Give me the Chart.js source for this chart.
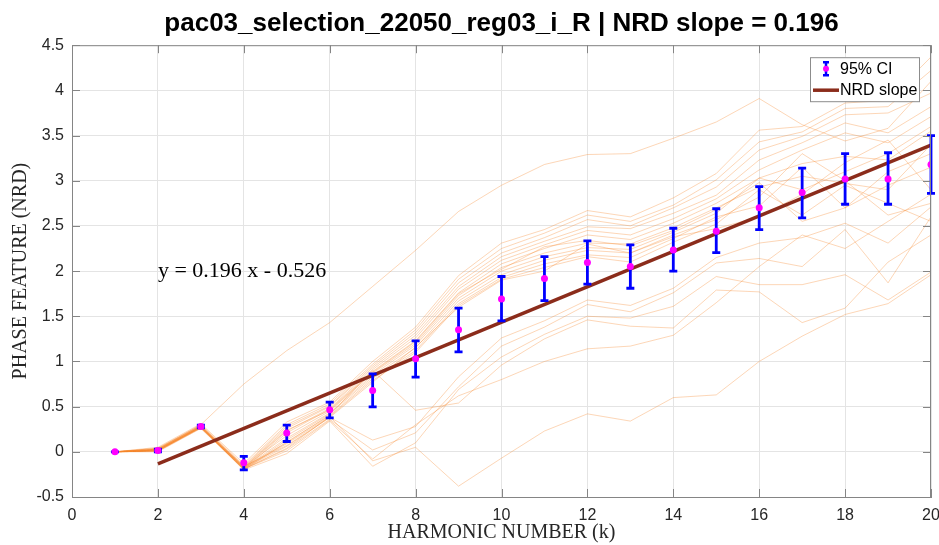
<!doctype html>
<html lang="en">
<head>
<meta charset="utf-8">
<title>NRD slope</title>
<style>
  * { margin: 0; padding: 0; }
  body { background: #ffffff; }
  .chartBox { width: 939px; height: 545px; }
</style>
</head>
<body>
<div class="chartBox"><canvas id="myChart" width="939" height="545"></canvas></div>
<script src="https://cdn.jsdelivr.net/npm/chart.js"></script>
<script>
// harmonic index on the x axis
const harmonics = [1, 2, 3, 4, 5, 6, 7, 8, 9, 10, 11, 12, 13, 14, 15, 16, 17, 18, 19, 20];

// mean and 95% confidence interval per harmonic
const ciMean = [0, 0.015, 0.28, -0.12, 0.207, 0.465, 0.678, 1.03, 1.35, 1.69, 1.917, 2.094, 2.05, 2.234, 2.44, 2.70, 2.87, 3.02, 3.02, 3.18];
const ciLow  = [0, 0.0, 0.265, -0.20, 0.114, 0.376, 0.498, 0.826, 1.106, 1.45, 1.674, 1.855, 1.81, 2.0, 2.205, 2.46, 2.59, 2.74, 2.74, 2.86];
const ciHigh = [0, 0.03, 0.295, -0.05, 0.295, 0.55, 0.863, 1.228, 1.59, 1.94, 2.16, 2.334, 2.29, 2.474, 2.69, 2.935, 3.14, 3.30, 3.31, 3.50];

// linear fit
const slope = 0.196;
const intercept = -0.526;
const fitRange = [2, 20];

const xTicks = [0, 2, 4, 6, 8, 10, 12, 14, 16, 18, 20];
const yTicks = [-0.5, 0, 0.5, 1, 1.5, 2, 2.5, 3, 3.5, 4, 4.5];

// individual NRD curves
const traces = [
  [0, 0.03, 0.30,  0.75, 1.12, 1.43, 1.83, 2.23, 2.66, 2.95, 3.18, 3.29, 3.30, 3.47, 3.65, 3.91, 3.62, 3.44, 3.58, 4.10],
  [0, 0.05, 0.31, -0.13, 0.33, 0.55, 1.00, 1.38, 1.95, 2.31, 2.46, 2.67, 2.60, 2.81, 3.08, 3.56, 3.60, 3.86, 3.89, 4.37],
  [0, 0.04, 0.30, -0.15, 0.30, 0.53, 0.97, 1.35, 1.91, 2.25, 2.42, 2.62, 2.55, 2.73, 3.01, 3.43, 3.54, 3.80, 3.82, 4.22],
  [0, 0.03, 0.29, -0.16, 0.28, 0.51, 0.95, 1.32, 1.87, 2.20, 2.37, 2.57, 2.50, 2.70, 2.93, 3.34, 3.49, 3.73, 3.75, 3.97],
  [0, 0.02, 0.28, -0.17, 0.26, 0.50, 0.93, 1.29, 1.83, 2.16, 2.33, 2.49, 2.47, 2.64, 2.84, 3.23, 3.42, 3.64, 3.53, 3.82],
  [0, 0.02, 0.28, -0.18, 0.23, 0.48, 0.91, 1.26, 1.80, 2.12, 2.29, 2.45, 2.40, 2.58, 2.80, 3.12, 3.34, 3.53, 3.42, 3.71],
  [0, 0.01, 0.27, -0.19, 0.21, 0.47, 0.89, 1.23, 1.76, 2.08, 2.25, 2.40, 2.35, 2.53, 2.75, 3.03, 3.19, 3.27, 3.23, 3.55],
  [0, 0.03, 0.29, -0.17, 0.18, 0.45, 0.87, 1.20, 1.73, 2.04, 2.20, 2.31, 2.30, 2.48, 2.70, 2.93, 3.05, 2.97, 2.90, 3.40],
  [0, 0.02, 0.27, -0.18, 0.15, 0.43, 0.85, 1.18, 1.70, 2.00, 2.16, 2.26, 2.24, 2.43, 2.64, 3.03, 2.90, 3.10, 3.30, 3.60],
  [0, 0.01, 0.26, -0.19, 0.13, 0.42, 0.83, 1.15, 1.67, 1.96, 2.12, 2.23, 2.20, 2.40, 2.57, 2.82, 3.30, 3.00, 2.62, 2.75],
  [0, 0.03, 0.28, -0.20, 0.11, 0.40, 0.81, 1.12, 1.64, 1.93, 2.08, 2.18, 2.15, 2.36, 2.60, 2.72, 3.15, 2.70, 3.10, 3.30],
  [0, 0.02, 0.27, -0.18, 0.09, 0.39, 0.79, 1.10, 1.62, 1.91, 2.04, 2.16, 2.10, 2.32, 2.52, 2.90, 2.62, 2.95, 2.75, 2.55],
  [0, 0.04, 0.29, -0.16, 0.07, 0.38, 0.77, 1.16, 1.60, 1.90, 2.00, 2.30, 2.20, 2.38, 2.47, 2.60, 2.85, 3.20, 3.45, 2.90],
  [0, 0.02, 0.28, -0.17, 0.24, 0.46, 0.88, 1.22, 1.75, 2.02, 2.27, 2.34, 2.28, 2.45, 2.68, 2.98, 2.55, 2.70, 2.95, 3.15],
  [0, 0.02, 0.28, -0.18, 0.06, 0.38, 0.13, 0.28, 0.83, 1.26, 1.45, 1.68, 1.62, 1.81, 2.15, 2.31, 2.37, 2.53, 2.31, 2.71],
  [0, 0.01, 0.27, -0.19, 0.03, 0.36, 0.02, 0.21, 0.72, 1.17, 1.38, 1.63, 1.55, 1.76, 2.09, 2.14, 2.05, 2.46, 1.87, 2.60],
  [0, 0.00, 0.26, -0.20, -0.02, 0.34, -0.16, 0.10, 0.69, 1.05, 1.30, 1.50, 1.48, 1.61, 1.94, 1.85, 1.85, 1.96, 1.68, 1.99],
  [0, 0.02, 0.28, -0.17, 0.10, 0.41, 0.90, 0.46, 0.54, 0.96, 1.25, 1.46, 1.39, 1.37, 1.79, 1.77, 1.43, 1.59, 2.10, 2.40],
  [0, 0.01, 0.27, -0.19, 0.01, 0.35, -0.08, 0.30, 0.62, 0.80, 1.00, 1.14, 1.17, 1.29, 1.65, 2.05, 2.40, 2.25, 2.55, 2.85],
  [0, 0.01, 0.27, -0.19, 0.04, 0.39, -0.10, 0.05, -0.38, -0.07, 0.23, 0.42, 0.34, 0.60, 0.63, 1.00, 1.28, 1.52, 1.64, 1.96]
];

const sans = "'Liberation Sans', Arial, sans-serif";
const serif = "'Liberation Serif', 'DejaVu Serif', serif";
const ciBlue = '#0000ff';
const meanPink = '#ff00ff';
const fitColor = '#8b2c1b';
const traceColor = 'rgba(247, 134, 43, 0.34)';
const frameColor = '#858585';

const fitLabel = 'y = ' + slope.toFixed(3) + ' x ' + (intercept < 0 ? '- ' : '+ ') + Math.abs(intercept).toFixed(3);

// datasets: earlier entries are painted on top
const datasets = [
  {
    label: '95% CI',
    data: harmonics.map((k, i) => ({ x: k, y: ciMean[i] })),
    showLine: false,
    pointRadius: 3.5,
    pointBackgroundColor: meanPink,
    pointBorderWidth: 0
  },
  {
    label: 'NRD slope',
    data: fitRange.map(k => ({ x: k, y: slope * k + intercept })),
    borderColor: fitColor,
    borderWidth: 3.5,
    pointRadius: 0
  }
];
traces.forEach((vals, n) => {
  datasets.push({
    label: 'trace ' + (n + 1),
    data: harmonics.map((k, i) => ({ x: k, y: vals[i] })),
    borderColor: traceColor,
    borderWidth: 1,
    pointRadius: 0
  });
});

// blue error bars, painted just before the mean dots
const errorBars = {
  id: 'errorBars',
  beforeDatasetDraw(chart, args) {
    if (args.index !== 0) return;
    const { ctx, scales: { x, y } } = chart;
    ctx.save();
    ctx.strokeStyle = ciBlue;
    ctx.lineWidth = 2.8;
    harmonics.forEach((k, i) => {
      const px = x.getPixelForValue(k);
      const top = y.getPixelForValue(ciHigh[i]);
      const bot = y.getPixelForValue(ciLow[i]);
      ctx.beginPath();
      ctx.moveTo(px, top); ctx.lineTo(px, bot);
      ctx.moveTo(px - 4, top); ctx.lineTo(px + 4, top);
      ctx.moveTo(px - 4, bot); ctx.lineTo(px + 4, bot);
      ctx.stroke();
    });
    ctx.restore();
  }
};

// axes box, inward ticks, fit equation and legend
const decorations = {
  id: 'decorations',
  afterDraw(chart) {
    const { ctx, chartArea: a, scales: { x, y } } = chart;
    ctx.save();
    ctx.strokeStyle = frameColor;
    ctx.lineWidth = 1;
    ctx.strokeRect(a.left + 0.5, a.top + 0.5, a.right - a.left - 1, a.bottom - a.top);
    ctx.beginPath();
    xTicks.forEach(v => {
      const px = Math.round(x.getPixelForValue(v)) + 0.5;
      ctx.moveTo(px, a.bottom); ctx.lineTo(px, a.bottom - 8);
      ctx.moveTo(px, a.top); ctx.lineTo(px, a.top + 8);
    });
    yTicks.forEach(v => {
      const py = Math.round(y.getPixelForValue(v)) + 0.5;
      ctx.moveTo(a.left, py); ctx.lineTo(a.left + 8, py);
      ctx.moveTo(a.right, py); ctx.lineTo(a.right - 8, py);
    });
    ctx.stroke();

    // fit equation
    ctx.fillStyle = '#000000';
    ctx.font = '22px ' + serif;
    ctx.textAlign = 'left';
    ctx.textBaseline = 'middle';
    ctx.fillText(fitLabel, x.getPixelForValue(2), y.getPixelForValue(2.0));

    // legend box
    const bx = a.right - 121, by = a.top + 12, bw = 109, bh = 44;
    ctx.fillStyle = '#ffffff';
    ctx.fillRect(bx, by, bw, bh);
    ctx.strokeStyle = '#8c8c8c';
    ctx.lineWidth = 1;
    ctx.strokeRect(bx + 0.5, by + 0.5, bw, bh);
    ctx.strokeStyle = ciBlue;
    ctx.lineWidth = 2.5;
    ctx.beginPath();
    ctx.moveTo(bx + 16, by + 5); ctx.lineTo(bx + 16, by + 18);
    ctx.moveTo(bx + 13, by + 5); ctx.lineTo(bx + 19, by + 5);
    ctx.moveTo(bx + 13, by + 18); ctx.lineTo(bx + 19, by + 18);
    ctx.stroke();
    ctx.fillStyle = meanPink;
    ctx.beginPath();
    ctx.arc(bx + 16, by + 11.5, 3, 0, Math.PI * 2);
    ctx.fill();
    ctx.strokeStyle = fitColor;
    ctx.lineWidth = 3.5;
    ctx.beginPath();
    ctx.moveTo(bx + 3, by + 33); ctx.lineTo(bx + 29, by + 33);
    ctx.stroke();
    ctx.fillStyle = '#000000';
    ctx.font = '16px ' + sans;
    ctx.fillText('95% CI', bx + 30, by + 12);
    ctx.fillText('NRD slope', bx + 30, by + 33);
    ctx.restore();
  }
};

const config = {
  type: 'line',
  data: { datasets },
  options: {
    responsive: false,
    animation: false,
    elements: { line: { tension: 0 } },
    plugins: {
      legend: { display: false },
      tooltip: { enabled: false },
      title: {
        display: true,
        fullSize: false,
        text: 'pac03_selection_22050_reg03_i_R | NRD slope = ' + slope.toFixed(3),
        color: '#000000',
        font: { family: sans, size: 26, weight: 'bold' },
        padding: { top: 8, bottom: 6 }
      }
    },
    scales: {
      x: {
        type: 'linear',
        min: 0,
        max: 20,
        afterBuildTicks: s => { s.ticks = xTicks.map(v => ({ value: v })); },
        afterFit: s => { s.height = 48; s.paddingRight = 8; },
        ticks: { color: '#262626', font: { family: sans, size: 16 }, padding: 9, maxRotation: 0, callback: v => String(v) },
        grid: { color: '#e4e4e4', drawTicks: false },
        border: { color: frameColor },
        title: {
          display: true,
          text: 'HARMONIC NUMBER (k)',
          color: '#262626',
          font: { family: serif, size: 20 },
          padding: { top: 0, bottom: 0 }
        }
      },
      y: {
        type: 'linear',
        min: -0.5,
        max: 4.5,
        afterBuildTicks: s => { s.ticks = yTicks.map(v => ({ value: v })); },
        afterFit: s => { s.width = 72; },
        ticks: { color: '#262626', font: { family: sans, size: 16 }, padding: 8, callback: v => String(v) },
        grid: { color: '#e4e4e4', drawTicks: false },
        border: { color: frameColor },
        title: {
          display: true,
          text: 'PHASE FEATURE (NRD)',
          color: '#262626',
          font: { family: serif, size: 20 },
          padding: { top: 9, bottom: 0 }
        }
      }
    }
  },
  plugins: [errorBars, decorations]
};

const myChart = new Chart(document.getElementById('myChart'), config);
</script>
</body>
</html>
